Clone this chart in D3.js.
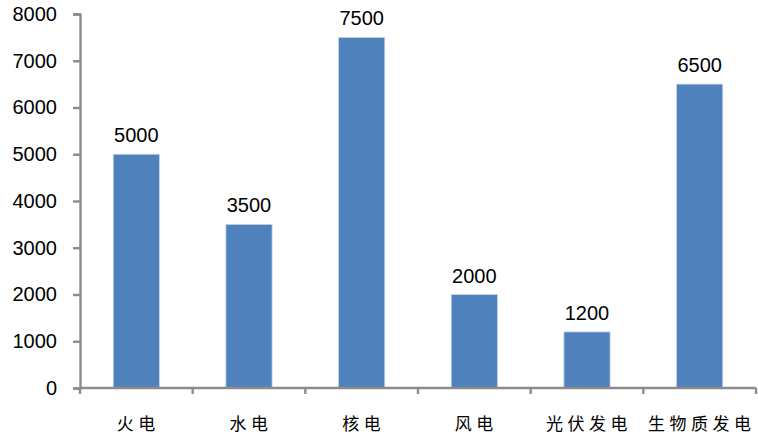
<!DOCTYPE html>
<html>
<head>
<meta charset="utf-8">
<script src="https://cdn.jsdelivr.net/npm/d3@7"></script>
<style>
  html, body { margin: 0; padding: 0; background: #fff; }
  svg { display: block; }
</style>
</head>
<body>
<svg id="chart" width="758" height="434"></svg>
<script>
// Annual utilisation hours by generation type
const categories = ["火电", "水电", "核电", "风电", "光伏发电", "生物质发电"];
const hours = [5000, 3500, 7500, 2000, 1200, 6500];
const yTicks = [0, 1000, 2000, 3000, 4000, 5000, 6000, 7000, 8000];

const svg = d3.select("#chart");
const margin = { left: 80, right: 2, top: 14, bottom: 46 };
const width = 758, height = 434;

const x = d3.scaleBand()
  .domain(categories)
  .range([margin.left, width - margin.right])
  .padding(0);

const y = d3.scaleLinear()
  .domain([0, 8000])
  .range([height - margin.bottom, margin.top]);

const barW = x.bandwidth() * 0.41;
const axisColor = "#8c8c8c";
const numFont = "'Liberation Sans', Arial, sans-serif";

// Bars
svg.append("g")
  .selectAll("rect")
  .data(categories)
  .join("rect")
  .attr("x", (d) => x(d) + (x.bandwidth() - barW) / 2)
  .attr("y", (d, i) => y(hours[i]))
  .attr("width", barW)
  .attr("height", (d, i) => y(0) - y(hours[i]))
  .attr("fill", "#4f81bd")
  .attr("stroke", "#c5d6ea")
  .attr("stroke-width", 0.8);

// Value labels above bars
svg.append("g")
  .selectAll("text")
  .data(categories)
  .join("text")
  .attr("x", (d) => x(d) + x.bandwidth() / 2)
  .attr("y", (d, i) => y(hours[i]) - 12)
  .attr("text-anchor", "middle")
  .attr("font-family", numFont)
  .attr("font-size", 20)
  .attr("fill", "#000")
  .text((d, i) => hours[i]);

// Y axis
const yAxis = svg.append("g")
  .attr("transform", `translate(${margin.left},0)`)
  .call(d3.axisLeft(y).tickValues(yTicks).tickSize(7).tickPadding(16).tickFormat(d3.format("d")));
yAxis.select(".domain").attr("stroke", axisColor).attr("stroke-width", 2.4);
yAxis.selectAll(".tick line").attr("stroke", axisColor).attr("stroke-width", 2.4);
yAxis.selectAll(".tick text")
  .attr("font-family", numFont)
  .attr("font-size", 20)
  .attr("fill", "#000");

// X axis with ticks at category boundaries
const xAxisG = svg.append("g")
  .attr("transform", `translate(0,${y(0)})`);
xAxisG.append("line")
  .attr("x1", margin.left).attr("x2", width - margin.right)
  .attr("stroke", axisColor).attr("stroke-width", 2.4);
const bounds = categories.map((d) => x(d)).concat([x(categories[categories.length - 1]) + x.bandwidth()]);
xAxisG.selectAll("line.tick")
  .data(bounds)
  .join("line")
  .attr("class", "tick")
  .attr("x1", (d) => d).attr("x2", (d) => d)
  .attr("y1", 0).attr("y2", 6)
  .attr("stroke", axisColor).attr("stroke-width", 2.4);
xAxisG.selectAll("text")
  .data(categories)
  .join("text")
  .attr("x", (d) => x(d) + x.bandwidth() / 2 + 2)
  .attr("y", 42)
  .attr("text-anchor", "middle")
  .attr("font-family", "'Noto Sans CJK SC', sans-serif")
  .attr("font-size", 17)
  .attr("letter-spacing", 4.5)
  .attr("fill", "#000")
  .text((d) => d);
</script>
</body>
</html>
